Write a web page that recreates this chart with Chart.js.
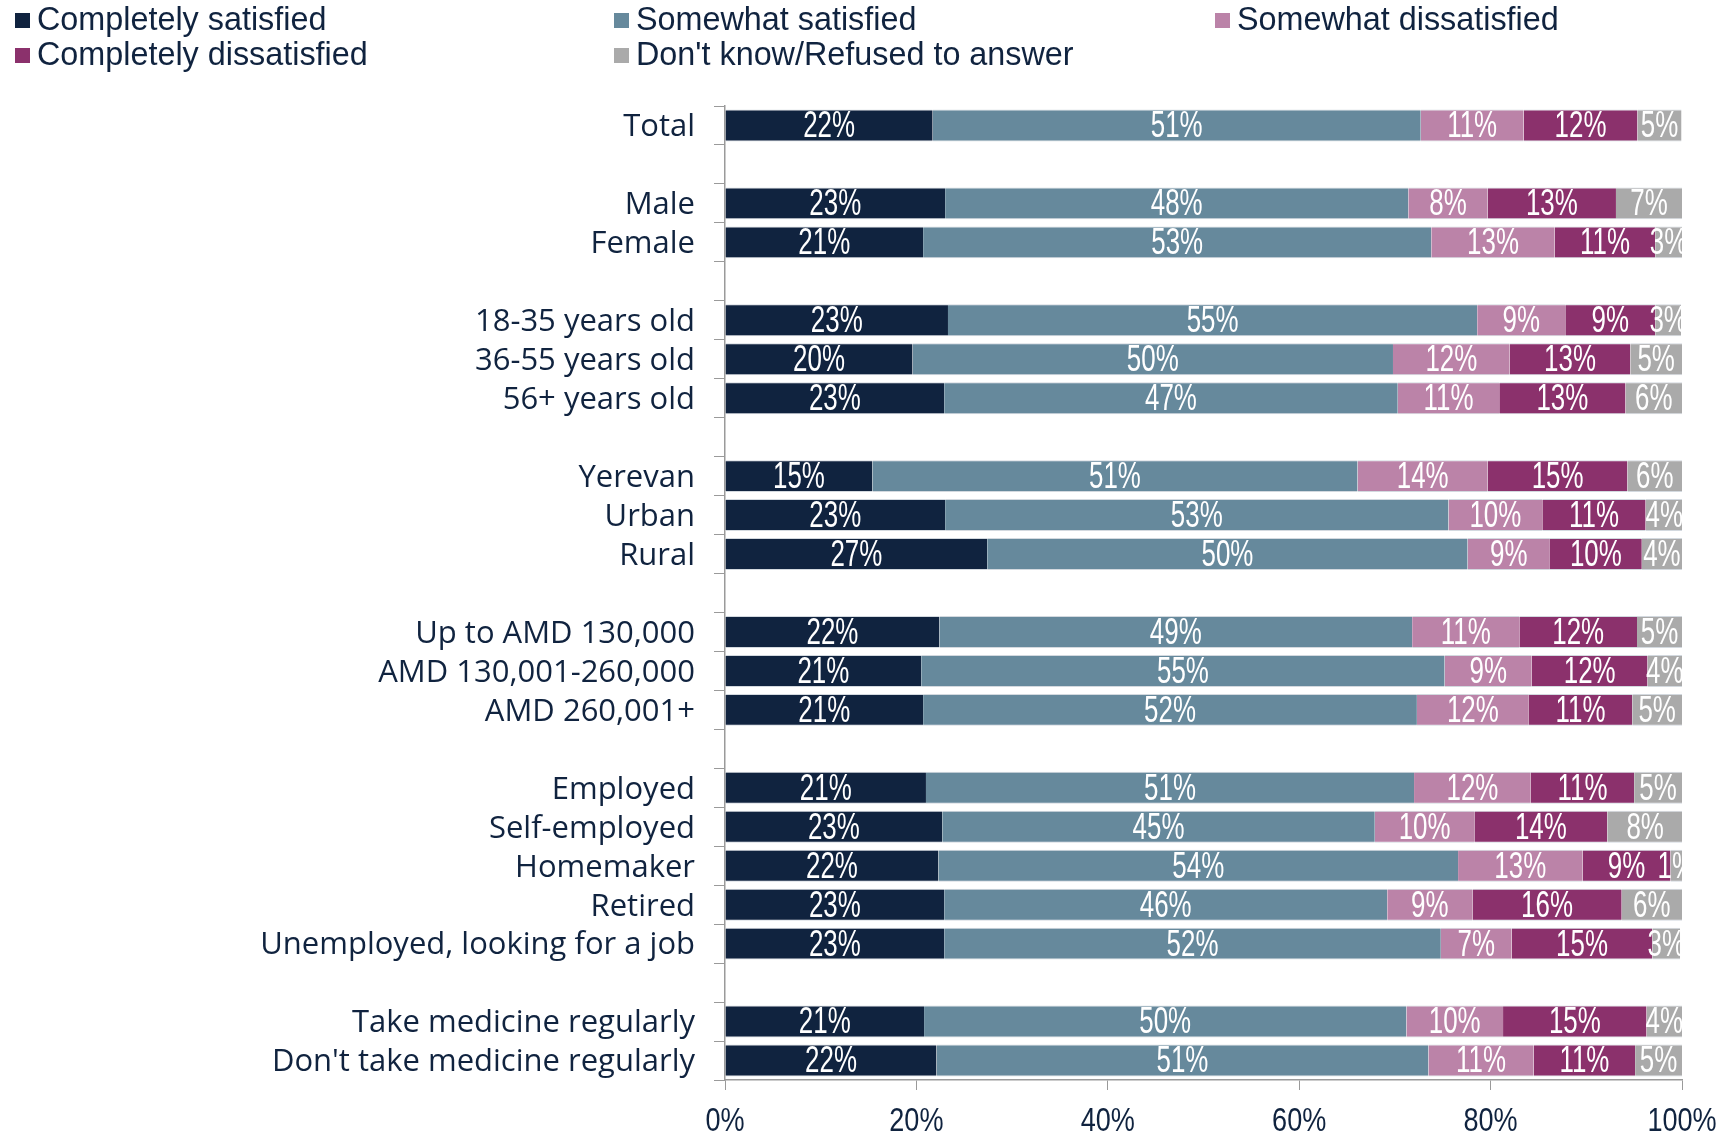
<!DOCTYPE html>
<html>
<head>
<meta charset="utf-8">
<script src="https://cdn.jsdelivr.net/npm/chart.js@4.4.1/dist/chart.umd.min.js"></script>
<style>
  html, body { margin: 0; padding: 0; background: #fff; }
  #wrap { width: 1735px; height: 1135px; position: relative; }
</style>
</head>
<body>
<div id="wrap"><canvas id="chart" width="1735" height="1135"></canvas></div>
<script>
// Satisfaction by group, share of respondents (%)
const categories = [
  'Total', '',
  'Male', 'Female', '',
  '18-35 years old', '36-55 years old', '56+ years old', '',
  'Yerevan', 'Urban', 'Rural', '',
  'Up to AMD 130,000', 'AMD 130,001-260,000', 'AMD 260,001+', '',
  'Employed', 'Self-employed', 'Homemaker', 'Retired', 'Unemployed, looking for a job', '',
  'Take medicine regularly', "Don't take medicine regularly"
];

const seriesNames = ['Completely satisfied', 'Somewhat satisfied', 'Somewhat dissatisfied', 'Completely dissatisfied', "Don't know/Refused to answer"];
const seriesColors = ['#10233f', '#66899c', '#bb83a8', '#8b316c', '#aaaaaa'];

const completelySatisfied    = [21.7, null, 23.0, 20.7, null, 23.3, 19.6, 22.9, null, 15.4, 23.0, 27.4, null, 22.4, 20.5, 20.7, null, 21.0, 22.7, 22.3, 22.9, 22.9, null, 20.8, 22.1];
const somewhatSatisfied      = [51.0, null, 48.4, 53.1, null, 55.3, 50.2, 47.4, null, 50.7, 52.6, 50.2, null, 49.4, 54.7, 51.6, null, 51.0, 45.2, 54.3, 46.3, 51.9, null, 50.4, 51.4];
const somewhatDissatisfied   = [10.75, null, 8.3, 12.9, null, 9.2, 12.2, 10.6, null, 13.6, 9.8, 8.6, null, 11.2, 9.1, 11.7, null, 12.2, 10.4, 13.0, 8.9, 7.4, null, 10.1, 11.0];
const completelyDissatisfied = [11.9, null, 13.4, 10.5, null, 9.4, 12.6, 13.2, null, 14.6, 10.8, 9.6, null, 12.3, 12.1, 10.8, null, 10.8, 13.9, 9.2, 15.6, 14.7, null, 15.0, 10.6];
const dontKnow               = [4.6, null, 6.9, 2.8, null, 2.7, 5.4, 5.9, null, 5.7, 3.9, 4.2, null, 4.7, 3.6, 5.2, null, 5.0, 7.9, 1.2, 6.3, 2.9, null, 3.7, 4.9];

const xTicks = [0, 20, 40, 60, 80, 100];

const NAVY = '#10233f';
const AXIS = '#9a9a9a';

const seriesValues = [completelySatisfied, somewhatSatisfied, somewhatDissatisfied, completelyDissatisfied, dontKnow];

// draw text squeezed horizontally (the original uses a condensed face)
function condensedText(ctx, text, x, y, sx) {
  ctx.save();
  ctx.translate(x, y);
  ctx.scale(sx, 1);
  ctx.fillText(text, 0, 0);
  ctx.restore();
}

const legendPlugin = {
  id: 'gridLegend',
  afterDraw(chart) {
    const ctx = chart.ctx;
    const cols = [15, 614, 1215];
    const rows = [20, 55];
    ctx.save();
    ctx.font = '33px "Liberation Sans", Arial, sans-serif';
    ctx.textBaseline = 'middle';
    ctx.textAlign = 'left';
    chart.data.datasets.forEach((ds, i) => {
      const x = cols[i % 3];
      const y = rows[Math.floor(i / 3)];
      ctx.fillStyle = ds.backgroundColor;
      ctx.fillRect(x, y - 7, 15, 15);
      ctx.fillStyle = NAVY;
      condensedText(ctx, ds.label, x + 22, y + 1, 0.98);
    });
    ctx.restore();
  }
};

const valueLabels = {
  id: 'valueLabels',
  afterDatasetsDraw(chart) {
    const ctx = chart.ctx;
    const area = chart.chartArea;
    ctx.save();
    ctx.beginPath();
    ctx.rect(area.left, area.top, area.right - area.left, area.bottom - area.top);
    ctx.clip();
    ctx.font = '36px "Liberation Sans", Arial, sans-serif';
    ctx.fillStyle = '#ffffff';
    ctx.textBaseline = 'middle';
    ctx.textAlign = 'center';
    chart.data.datasets.forEach((ds, di) => {
      const meta = chart.getDatasetMeta(di);
      meta.data.forEach((bar, i) => {
        const v = ds.data[i];
        if (v === null || v === undefined) return;
        const cx = (bar.x + bar.base) / 2;
        condensedText(ctx, Math.round(v) + '%', cx, bar.y + 2, 0.72);
      });
    });
    ctx.restore();
  }
};

const xLabels = {
  id: 'xLabels',
  afterDraw(chart) {
    const ctx = chart.ctx;
    const xs = chart.scales.x;
    ctx.save();
    ctx.font = '33px "Liberation Sans", Arial, sans-serif';
    ctx.fillStyle = NAVY;
    ctx.textBaseline = 'middle';
    ctx.textAlign = 'center';
    xTicks.forEach(v => {
      condensedText(ctx, v + '%', xs.getPixelForValue(v), 1122, 0.82);
    });
    ctx.restore();
  }
};

new Chart(document.getElementById('chart'), {
  type: 'bar',
  data: {
    labels: categories,
    datasets: seriesNames.map((name, i) => ({
      label: name,
      data: seriesValues[i],
      backgroundColor: seriesColors[i],
      borderColor: '#d3d9df',
      borderWidth: { top: 1, bottom: 1, left: 0, right: 0 },
      borderSkipped: false,
      categoryPercentage: 0.82,
      barPercentage: 1.0
    }))
  },
  options: {
    indexAxis: 'y',
    responsive: false,
    animation: false,
    layout: { padding: { top: 106, right: 53, bottom: 0, left: 0 } },
    plugins: {
      legend: { display: false },
      tooltip: { enabled: false }
    },
    scales: {
      x: {
        stacked: true,
        min: 0,
        max: 100,
        afterBuildTicks(scale) { scale.ticks = xTicks.map(v => ({ value: v })); },
        ticks: { display: false },
        grid: { drawOnChartArea: false, drawTicks: true, tickLength: 10, color: AXIS },
        border: { color: AXIS, width: 1.5 },
        afterFit(scale) { scale.height = 55; }
      },
      y: {
        stacked: true,
        ticks: {
          color: NAVY,
          font: { family: '"Open Sans", "Noto Sans", sans-serif', size: 31 },
          padding: 19,
          labelOffset: 2,
          autoSkip: false
        },
        grid: { offset: true, drawOnChartArea: false, drawTicks: true, tickLength: 11, color: AXIS },
        border: { color: AXIS, width: 1.5 },
        afterFit(scale) { scale.width = 725; }
      }
    }
  },
  plugins: [legendPlugin, valueLabels, xLabels]
});
</script>
</body>
</html>
